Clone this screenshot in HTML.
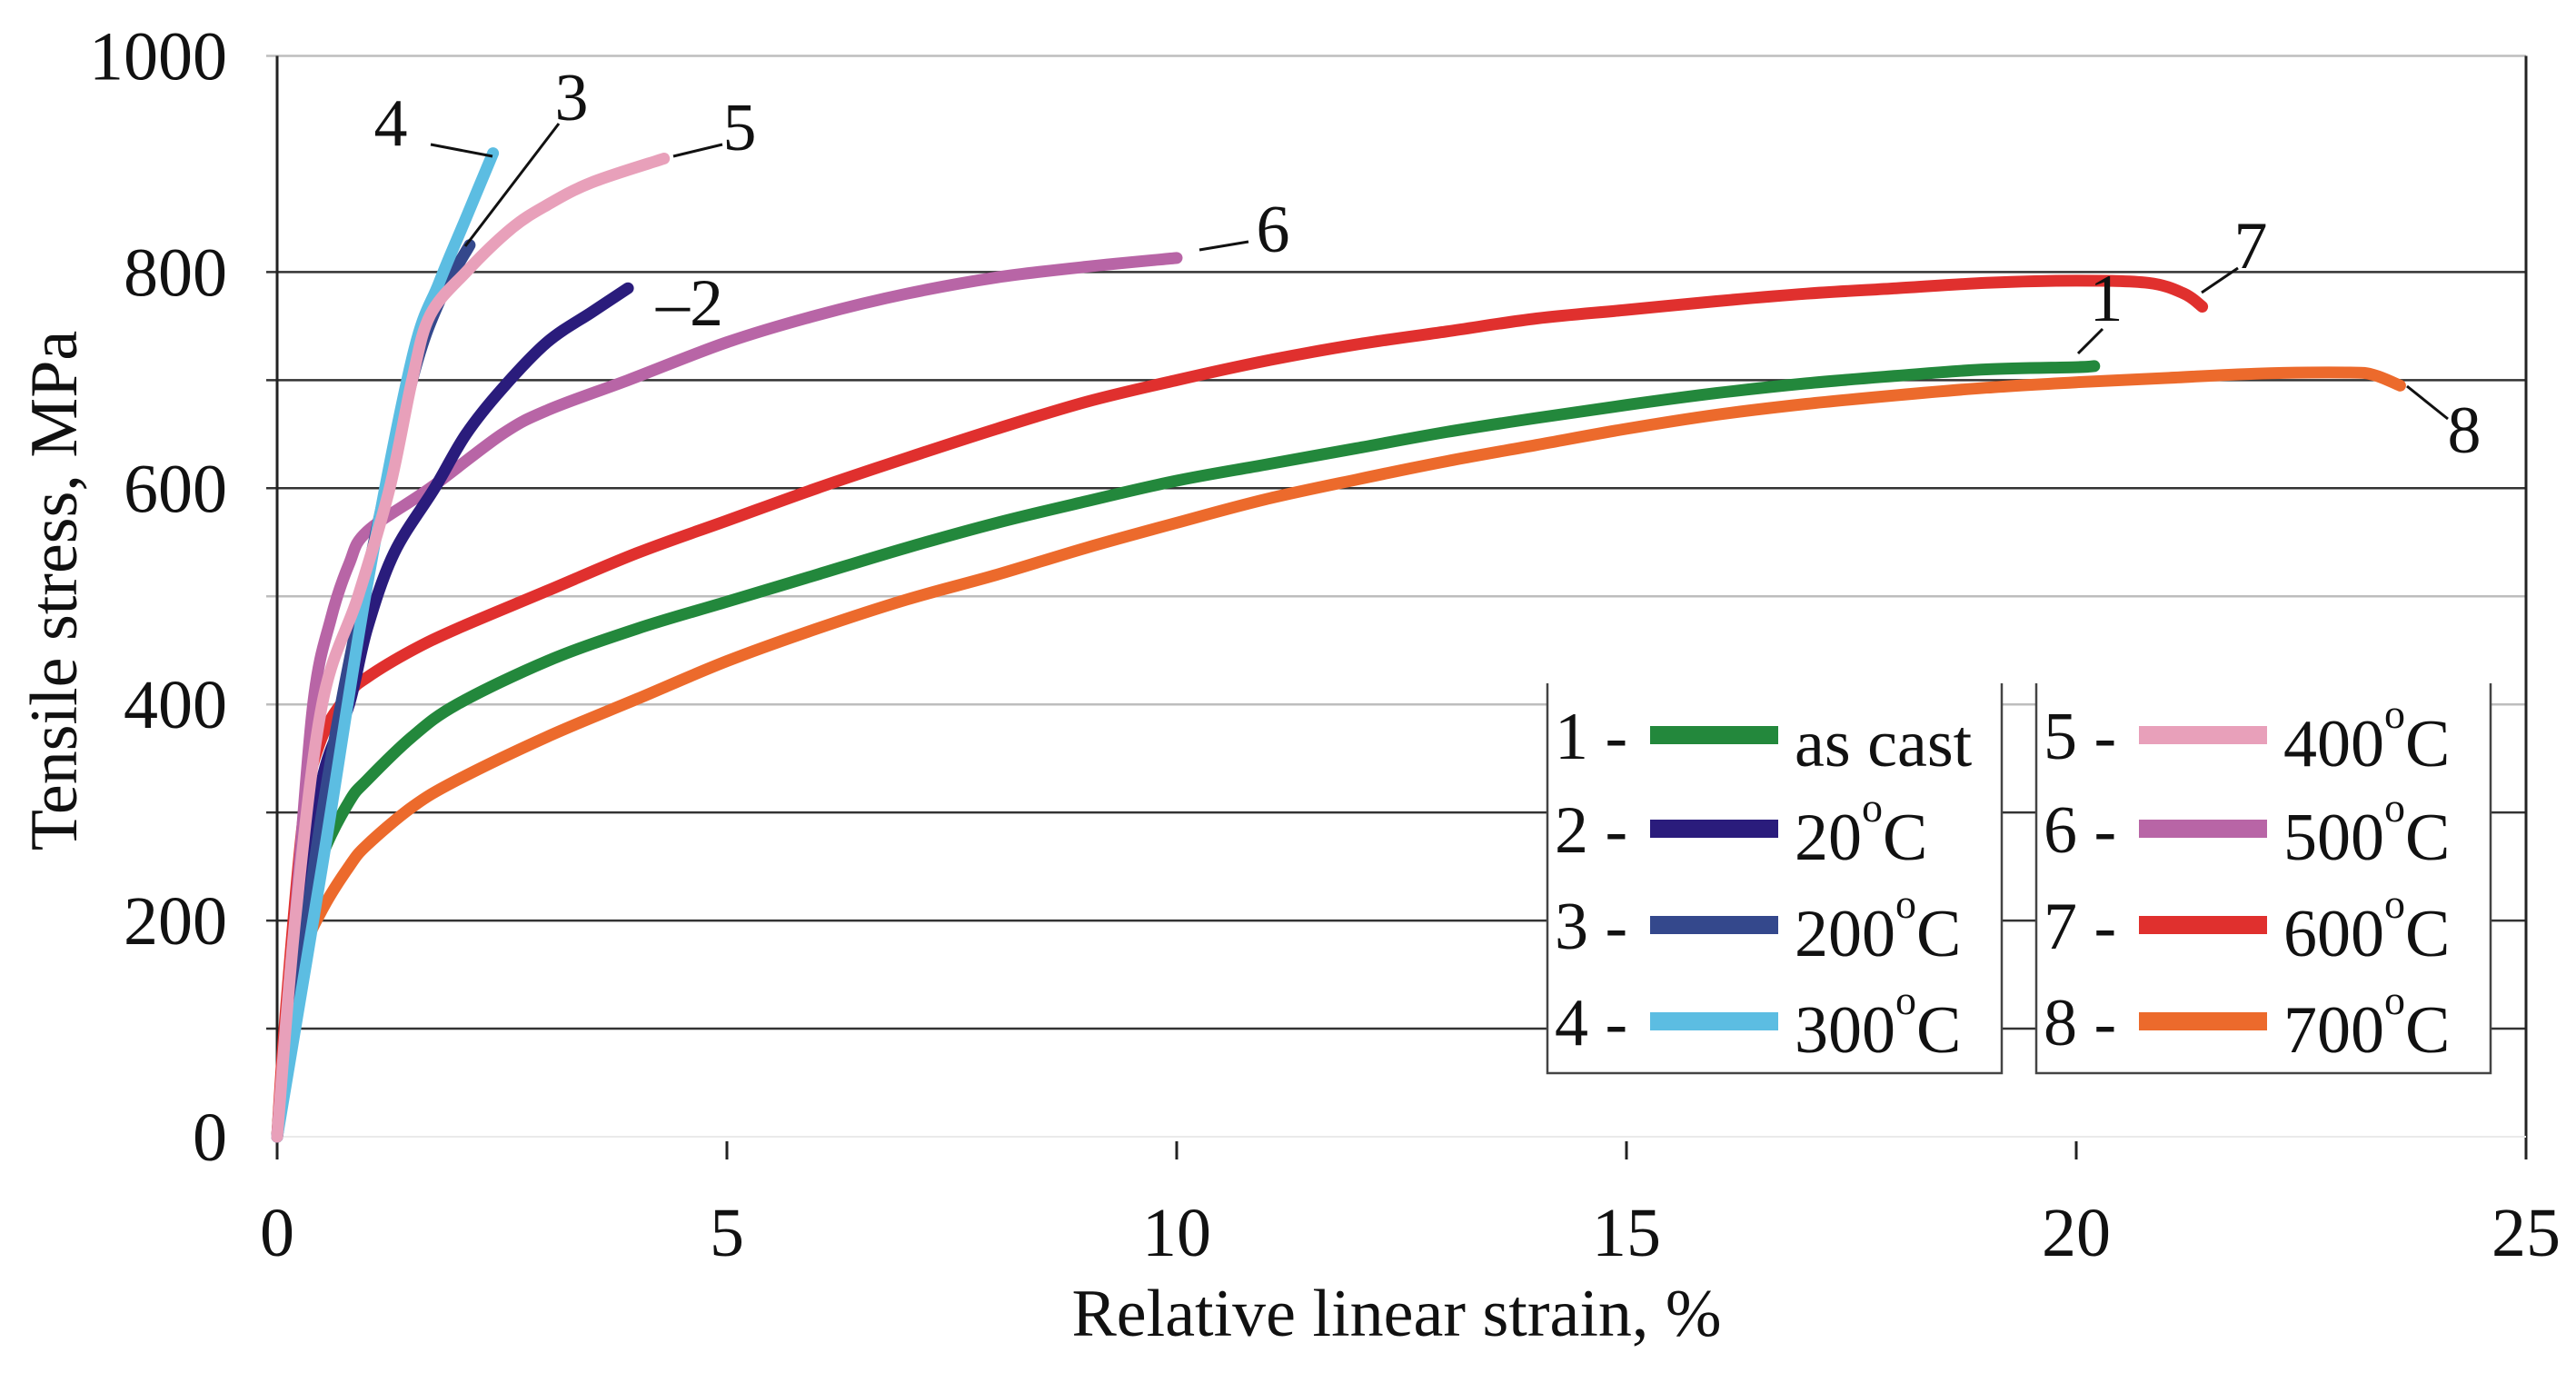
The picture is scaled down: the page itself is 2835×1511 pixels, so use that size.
<!DOCTYPE html>
<html><head><meta charset="utf-8"><style>
html,body{margin:0;padding:0;background:#fff;}
svg{display:block;font-family:"Liberation Serif",serif;}
</style></head><body>
<svg id="chart" width="2835" height="1511" viewBox="0 0 2835 1511"></svg>
<script>
const strain1=[0,0.1,0.3,0.5,0.8,1,1.5,2,3,4,5,6,7,8,9,10,11,12,13,14,15,16,17,18,19,20,20.2];
const stress1=[0,100,200,260,310,330,370,400,440,470,495,520,545,568,588,607,622,637,652,665,677,688,697,704,710,712,713];
const strain2=[0,0.3,0.5,0.8,1,1.3,1.75,2.1,2.5,3,3.5,3.9];
const stress2=[0,200,330,400,470,540,600,650,692,735,763,785];
const strain3=[0,0.5,1,1.5,1.82,2.14];
const stress3=[0,300,520,700,776,825];
const strain4=[0,0.5,1,1.5,1.8,2.1,2.4];
const stress4=[0,250,510,720,790,850,910];
const strain5=[0,0.2,0.5,0.9,1.25,1.5,1.7,2.1,2.6,3,3.5,4.3];
const stress5=[0,200,400,500,600,700,760,800,840,862,883,905];
const strain6=[0,0.2,0.4,0.6,0.8,1,1.7,2.5,3,3.9,5,6,7,8,9,10];
const stress6=[0,200,400,480,530,560,600,650,672,700,735,760,780,795,805,813];
const strain7=[0,0.1,0.3,0.5,0.8,1,1.5,2,3,4,5,6,7,8,9,10,11,12,13,14,15,16,17,18,19,20,20.8,21.2,21.4];
const stress7=[0,120,300,370,410,425,450,470,505,540,570,600,628,655,680,700,718,733,745,757,765,773,780,785,790,792,790,780,768];
const strain8=[0,0.1,0.3,0.5,0.8,1,1.5,2,3,4,5,6,7,8,9,10,11,12,13,14,15,16,17,18,19,20,21,22,23,23.3,23.6];
const stress8=[0,80,170,210,250,270,305,330,370,405,440,470,497,520,545,568,590,608,625,640,655,668,678,686,693,698,702,706,707,705,695];
const xTicks=[0,5,10,15,20,25];
const yTicks=[0,200,400,600,800,1000];
const gridVals=[100,200,300,400,500,600,700,800,1000];

const NS="http://www.w3.org/2000/svg";
const svg=document.getElementById('chart');
const L=305,R=2780,T=61.5,B=1251;
const xs=v=>L+(R-L)*v/25;
const ys=v=>B-(B-T)*v/1000;
function mk(tag,attrs,parent){const e=document.createElementNS(NS,tag);for(const k in attrs)e.setAttribute(k,attrs[k]);(parent||svg).appendChild(e);return e;}

gridVals.forEach(v=>{
  const light=(v===500||v===400||v===1000);
  const g=mk('line',{x1:L-12,x2:R,y1:ys(v),y2:ys(v),stroke:light?'#bdbdbd':'#333',"stroke-width":2.5});
  
  
});
const ya=mk('line',{x1:L,x2:L,y1:T,y2:B+15,stroke:'#222',"stroke-width":3});

const rb=mk('line',{x1:R,x2:R,y1:T,y2:B+20,stroke:'#222',"stroke-width":3});

const xb=mk('line',{x1:L,x2:R,y1:B,y2:B,stroke:'#eaeaea',"stroke-width":2});

xTicks.forEach(v=>{
  const t=mk('line',{x1:xs(v),x2:xs(v),y1:B+5,y2:B+25,stroke:'#222',"stroke-width":3});
  
  const l=mk('text',{x:xs(v),y:1382,"text-anchor":"middle","font-size":76,fill:'#111'});
  l.textContent=v;
  
});
yTicks.forEach(v=>{
  const l=mk('text',{x:250,y:ys(v)+26,"text-anchor":"end","font-size":76,fill:'#111'});
  l.textContent=v;
  
});
const yt=mk('text',{x:0,y:0,transform:'translate(84,650) rotate(-90)',"text-anchor":"middle","font-size":74,fill:'#111'});
yt.textContent='Tensile stress, MPa';

const xt=mk('text',{x:1537,y:1470,"text-anchor":"middle","font-size":74,fill:'#111'});
xt.textContent='Relative linear strain, %';


function smoothPath(px,py){
  let d='M'+px[0].toFixed(1)+','+py[0].toFixed(1);
  for(let i=0;i<px.length-1;i++){
    const i0=Math.max(0,i-1),i3=Math.min(px.length-1,i+2);
    const c1x=px[i]+(px[i+1]-px[i0])/6,c1y=py[i]+(py[i+1]-py[i0])/6;
    const c2x=px[i+1]-(px[i3]-px[i])/6,c2y=py[i+1]-(py[i3]-py[i])/6;
    d+=` C${c1x.toFixed(1)},${c1y.toFixed(1)} ${c2x.toFixed(1)},${c2y.toFixed(1)} ${px[i+1].toFixed(1)},${py[i+1].toFixed(1)}`;
  }
  return d;
}
const series=[
 [strain8,stress8,'#ec6a2c','series-700c'],
 [strain1,stress1,'#23883c','series-as-cast'],
 [strain7,stress7,'#e0302e','series-600c'],
 [strain6,stress6,'#b865a6','series-500c'],
 [strain2,stress2,'#2a1c7c','series-20c'],
 [strain3,stress3,'#34488c','series-200c'],
 [strain4,stress4,'#5cbde2','series-300c'],
 [strain5,stress5,'#e8a0ba','series-400c'],
];
series.forEach(s=>{
  const d=smoothPath(s[0].map(xs),s[1].map(ys));
  const p=mk('path',{d:d,fill:'none',stroke:s[2],"stroke-width":13,"stroke-linejoin":"round","stroke-linecap":"round"});
  
  
});

const ann=[
 ['4',430,160,474,159,542,172],['3',629,132,615,136,512,271],['5',814,165,795,159,741,172],
 ['–2',759,358,null],['6',1401,277,1320,275,1374,266],['7',2477,295,2423,322,2463,295],
 ['1',2318,353,2287,389,2314,362],['8',2712,498,2649,425,2694,461]
];
ann.forEach(a=>{
  const t=mk('text',{x:a[1],y:a[2],"text-anchor":"middle","font-size":74,fill:'#111'});
  t.textContent=a[0];
  
  if(a[3]!==null){
    const ln=mk('line',{x1:a[3],y1:a[4],x2:a[5],y2:a[6],stroke:'#111',"stroke-width":3});
    
  }
});

const legA=[['1 -','#23883c','as cast',''],['2 -','#2a1c7c','20','C'],['3 -','#34488c','200','C'],['4 -','#5cbde2','300','C']];
const legB=[['5 -','#e8a0ba','400','C'],['6 -','#b865a6','500','C'],['7 -','#e0302e','600','C'],['8 -','#ec6a2c','700','C']];
const rowY=[809,912,1018,1124];
function legend(items,x0,x1,name){
  const g=mk('g',{});
  
  mk('rect',{x:x0,y:752,width:x1-x0,height:429,fill:'#fff'},g);
  mk('path',{d:`M${x0},752 V1181 H${x1} V752`,fill:'none',stroke:'#444',"stroke-width":2.5},g);
  items.forEach((it,i)=>{
    const y=rowY[i];
    const n=mk('text',{x:x0+8,y:y+26,"font-size":74,fill:'#111'},g);n.textContent=it[0];
    mk('rect',{x:x0+113,y:y-10,width:141,height:20,fill:it[1]},g);
    const t=mk('text',{x:x0+272,y:y+34,"font-size":74,fill:'#111'},g);
    if(it[3]){
      t.textContent=it[2];
      const s=mk('tspan',{dy:-42,"font-size":46},t);s.textContent='o';
      const c=mk('tspan',{dy:42,"font-size":74},t);c.textContent=it[3];
    } else t.textContent=it[2];
    
  });
}
legend(legA,1703,2203,'legend-left');
legend(legB,2241,2741,'legend-right');
</script>
</body></html>
